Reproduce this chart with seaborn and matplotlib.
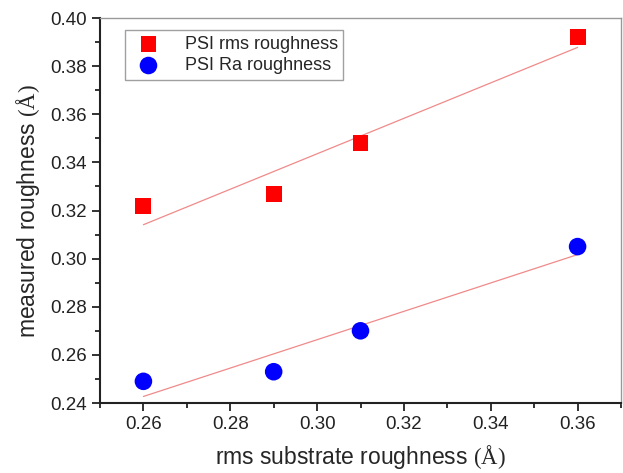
"""
Measured PSI roughness vs rms substrate roughness, with linear fits.
"""

import matplotlib
matplotlib.use("Agg")
import matplotlib.pyplot as plt
import matplotlib.ticker as mticker
import seaborn as sns
import pandas as pd

# ---------------------------------------------------------------------------
# Data
# ---------------------------------------------------------------------------

substrate_rms = [0.26, 0.29, 0.31, 0.36]
psi_rms       = [0.322, 0.327, 0.348, 0.392]
psi_ra        = [0.249, 0.253, 0.270, 0.305]

df = pd.DataFrame({"x": substrate_rms, "rms": psi_rms, "ra": psi_ra})

# ---------------------------------------------------------------------------
# Style
# ---------------------------------------------------------------------------

sns.set_style("white")
plt.rcParams["font.family"] = ["Liberation Sans", "DejaVu Sans"]
plt.rcParams["mathtext.fontset"] = "custom"
plt.rcParams["mathtext.rm"] = "Liberation Serif"

FIT_COLOR = "#F08A8A"

fig = plt.figure(figsize=(6.23, 4.73), dpi=100)
ax = fig.add_axes([100 / 623, 70 / 473, 521 / 623, 385 / 473])

# linear fits over the data range
sns.regplot(data=df, x="x", y="rms", scatter=False, ci=None, truncate=True,
            line_kws=dict(color=FIT_COLOR, lw=0.9), ax=ax)
sns.regplot(data=df, x="x", y="ra", scatter=False, ci=None, truncate=True,
            line_kws=dict(color=FIT_COLOR, lw=0.9), ax=ax)

sns.scatterplot(data=df, x="x", y="rms", marker="s", s=130, color="#FF0000",
                edgecolor="none", label="PSI rms roughness", ax=ax, zorder=3)
sns.scatterplot(data=df, x="x", y="ra", marker="o", s=160, color="#0000FF",
                edgecolor="none", label="PSI Ra roughness", ax=ax, zorder=3)

ax.set_xlim(0.25, 0.37)
ax.set_ylim(0.24, 0.40)
ax.xaxis.set_major_locator(mticker.MultipleLocator(0.02))
ax.xaxis.set_minor_locator(mticker.MultipleLocator(0.01))
ax.yaxis.set_major_locator(mticker.MultipleLocator(0.02))
ax.yaxis.set_minor_locator(mticker.MultipleLocator(0.01))
ax.xaxis.set_major_formatter(mticker.FormatStrFormatter("%.2f"))
ax.yaxis.set_major_formatter(mticker.FormatStrFormatter("%.2f"))
ax.set_xticks([0.26, 0.28, 0.30, 0.32, 0.34, 0.36])

for side in ("left", "bottom"):
    ax.spines[side].set_color("#222222")
    ax.spines[side].set_linewidth(1.5)
for side in ("top", "right"):
    ax.spines[side].set_color("#999999")
    ax.spines[side].set_linewidth(1.0)

ax.tick_params(which="major", direction="out", length=6, width=1.3,
               labelsize=13.5, colors="#222222", bottom=True, left=True)
ax.tick_params(which="minor", direction="out", length=3.5, width=1.3,
               colors="#222222", bottom=True, left=True)

ax.set_xlabel(r"rms substrate roughness $\mathrm{(Å)}$", fontsize=16.5, labelpad=7)
ax.set_ylabel(r"measured roughness $\mathrm{(Å)}$", fontsize=16.5, labelpad=6)

leg = ax.legend(loc="upper left", bbox_to_anchor=(0.048, 0.968), fontsize=13,
                frameon=True, fancybox=False, edgecolor="#888888",
                borderpad=0.3, handletextpad=1.0, labelspacing=0.25,
                borderaxespad=0.0, markerscale=1.0)
leg.get_frame().set_linewidth(1.0)

fig.savefig("out.png", dpi=100)
